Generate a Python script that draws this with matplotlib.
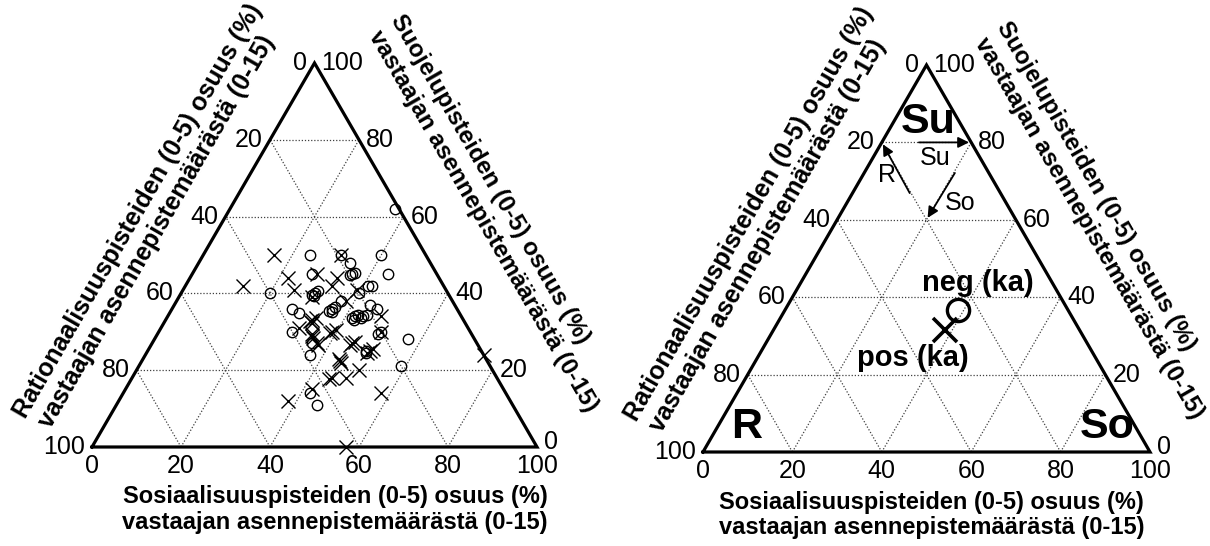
import numpy as np
import matplotlib
matplotlib.use("Agg")
import matplotlib.pyplot as plt

plt.rcParams['font.family'] = ['Liberation Sans', 'DejaVu Sans']

# share (%) of Sosiaalisuus (So) and Suojelu (Su) points per respondent,
# Rationaalisuus (R) = 100 - So - Su
# crosses = positive group, circles = negative group
pos_so = [16, 13, 22, 25, 28, 33, 33, 30, 39, 38,
          33, 33.5, 32.5, 33.2, 39, 39.5, 38.6, 35, 35.4, 34.7,
          37, 37.4, 31, 45, 45.5, 44.6, 50, 50.5, 49.6, 44,
          45, 44.5, 50, 45, 48, 44.5, 42, 38, 58, 48,
          50, 76, 57, 31]
pos_su = [50, 42, 44, 41, 45, 44, 42, 39, 41, 38,
          33, 33.5, 32.8, 32.3, 30, 30.5, 29.6, 29, 28.4, 29.5,
          27, 26.6, 31, 27, 27.4, 26.6, 25, 25.4, 24.6, 23,
          22, 22.5, 20, 18, 18, 17.6, 15, 12, 14, 34,
          30, 24, 0, 50]

neg_so = [37, 24, 31, 34, 36, 36.4, 35.6, 40, 44, 27,
          20, 27, 29, 30, 30.5, 29.6, 30.2, 36, 36.5, 35.5,
          36.3, 37, 40, 41, 42, 42, 42.5, 41.6, 42.3, 44,
          44.5, 43.7, 44, 46, 30, 36, 37, 50, 49.5, 49,
          49.4, 57, 59, 42, 45]
neg_su = [62, 50, 50, 48, 45, 45.4, 44.7, 50, 45, 45,
          40, 36, 35, 40, 40.5, 39.6, 39.3, 36, 36.4, 35.5,
          35.2, 38, 40, 42, 42, 34, 34.4, 33.6, 33.2, 34,
          34.5, 33.5, 37, 36, 30, 27, 24, 30, 29.5, 25,
          24.5, 28, 21, 14, 11]

# group means (ka) for the right-hand chart
mean_pos_so, mean_pos_su = 38.3, 31.5
mean_neg_so, mean_neg_su = 38.7, 36.7

tick_values = [0, 20, 40, 60, 80, 100]
grid_values = [20, 40, 60, 80]

title_r = ["Rationaalisuuspisteiden (0-5) osuus (%)", "vastaajan asennepistemäärästä (0-15)"]
title_su = ["Suojelupisteiden (0-5) osuus (%)", "vastaajan asennepistemäärästä (0-15)"]
title_so = ["Sosiaalisuuspisteiden (0-5) osuus (%)", "vastaajan asennepistemäärästä (0-15)"]

H = np.sqrt(3) / 2
FS = 18


def to_xy(so, su):
    so = np.asarray(so, dtype=float)
    su = np.asarray(su, dtype=float)
    return so + su / 2, su * H


def draw_triangle(ax, bottom_title_x, su_shift):
    ax.set_xlim(0, 100)
    ax.set_ylim(0, 100 * H)
    ax.axis('off')

    # dotted grid
    for v in grid_values:
        for so, su in (([0, 100 - v], [v, v]),
                       ([v, v], [0, 100 - v]),
                       ([100 - v, 0], [0, 100 - v])):
            x, y = to_xy(so, su)
            ax.plot(x, y, ls=(0, (1, 1.5)), color='0.25', lw=0.9)

    # frame
    x, y = to_xy([0, 100, 0, 0], [0, 0, 100, 0])
    ax.plot(x, y, color='k', lw=2.3, solid_joinstyle='miter', clip_on=False)

    # tick labels
    for v in tick_values:
        x, y = to_xy(0, 100 - v)
        ax.annotate(str(v), (x, y), xytext=(-7, 0), textcoords='offset pixels',
                    ha='right', va='center', fontsize=FS)
        x, y = to_xy(100 - v, v)
        dy = 5 if v == 0 else 0
        ax.annotate(str(v), (x, y), xytext=(7, dy), textcoords='offset pixels',
                    ha='left', va='center', fontsize=FS)
        x, y = to_xy(v, 0)
        ax.annotate(str(v), (x, y), xytext=(0, -7), textcoords='offset pixels',
                    ha='center', va='top', fontsize=FS)

    # axis titles
    kw = dict(fontweight='bold', ha='center', va='center',
              rotation_mode='anchor', clip_on=False)
    ax.text(10.3, 53.3, title_r[0], rotation=60, fontsize=18, **kw)
    ax.text(14.6, 48.5, title_r[1], rotation=60, fontsize=18, **kw)
    dx, dy = -0.866 * su_shift, -0.5 * su_shift
    ax.text(89.4 + dx, 60.4 + dy, title_su[0], rotation=-60, fontsize=17.5, **kw)
    ax.text(87.9 + dx, 51.0 + dy, title_su[1], rotation=-60, fontsize=17.5, **kw)
    ax.text(bottom_title_x, -11.2, title_so[0], fontsize=17, **kw)
    ax.text(bottom_title_x, -17.0, title_so[1], fontsize=17, **kw)


fig = plt.figure(figsize=(12.1, 5.46), dpi=100)

# left: all respondents
ax1 = fig.add_axes([92 / 1210, 1 - 447 / 546, 445 / 1210, 384 / 546])
draw_triangle(ax1, 54.6, 0)
x, y = to_xy(neg_so, neg_su)
ax1.plot(x, y, 'o', ms=7.5, mfc='none', mec='k', mew=1.0, clip_on=False)
x, y = to_xy(pos_so, pos_su)
ax1.plot(x, y, 'x', ms=9.5, color='k', mew=1.0, clip_on=False)

# right: group means with reading guide
ax2 = fig.add_axes([703 / 1210, 1 - 452 / 546, 447 / 1210, 387 / 546])
draw_triangle(ax2, 51.2, 1.8)
x, y = to_xy(mean_neg_so, mean_neg_su)
ax2.plot(x, y, 'o', ms=16, mfc='none', mec='k', mew=2.4)
x, y = to_xy(mean_pos_so, mean_pos_su)
ax2.plot(x, y, 'x', ms=17, color='k', mew=2.6)
ax2.text(61.5, 37.8, 'neg (ka)', fontsize=21, fontweight='bold', ha='center', va='center')
ax2.text(47.0, 21.0, 'pos (ka)', fontsize=21, fontweight='bold', ha='center', va='center')

big = dict(fontsize=31, fontweight='bold', ha='center', va='center')
ax2.text(50.3, 73.8, 'Su', **big)
ax2.text(9.8, 5.6, 'R', **big)
ax2.text(90.4, 5.6, 'So', **big)

arrow = dict(arrowstyle='-|>', color='k', lw=1.3, mutation_scale=16,
             shrinkA=0, shrinkB=0)
ax2.annotate('', xy=to_xy(19.5, 80), xytext=to_xy(8.3, 80), arrowprops=arrow)
ax2.annotate('', xy=to_xy(0.5, 79.5), xytext=to_xy(12.8, 66.9), arrowprops=arrow)
ax2.annotate('', xy=to_xy(20, 60.5), xytext=to_xy(20.3, 72.1), arrowprops=arrow)
ax2.text(51.9, 65.8, 'Su', fontsize=FS, ha='center', va='center')
ax2.text(41.2, 62.0, 'R', fontsize=FS, ha='center', va='center')
ax2.text(57.5, 55.7, 'So', fontsize=FS, ha='center', va='center')

fig.savefig('out.png', dpi=100)
